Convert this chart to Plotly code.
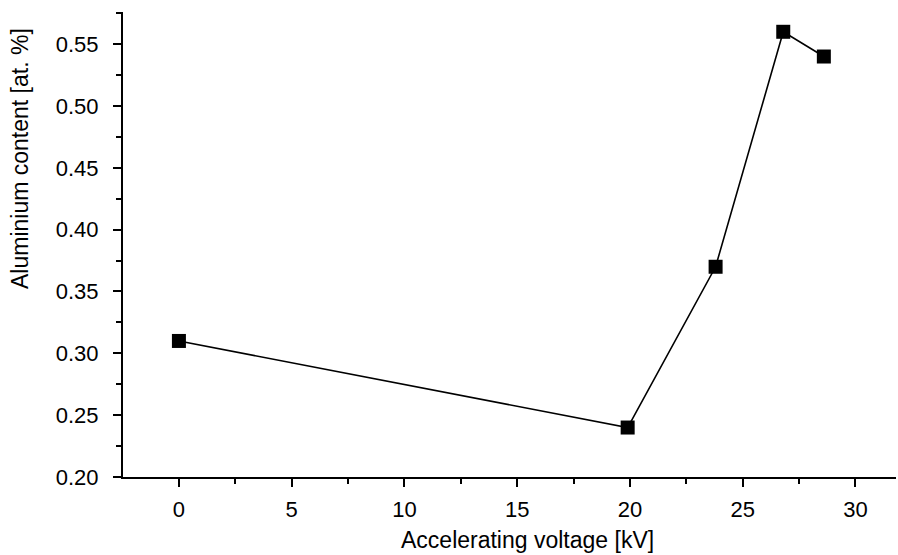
import plotly.graph_objects as go

voltage = [0, 19.9, 23.8, 26.8, 28.6]
aluminium = [0.31, 0.24, 0.37, 0.56, 0.54]
x_ticks = [0, 5, 10, 15, 20, 25, 30]
y_ticks = [0.20, 0.25, 0.30, 0.35, 0.40, 0.45, 0.50, 0.55]
y_ticktext = ["0.20", "0.25", "0.30", "0.35", "0.40", "0.45", "0.50", "0.55"]

fig = go.Figure()
fig.add_trace(go.Scatter(
    x=voltage, y=aluminium, mode="lines+markers",
    line=dict(color="black", width=1.6),
    marker=dict(symbol="square", size=14, color="black"),
    showlegend=False,
))

font = dict(family="Liberation Sans, Arial, sans-serif", size=22, color="black")
L, R, T, B = 123, 2, 12, 78
W, H = 898, 555
fig.update_layout(
    width=W, height=H,
    margin=dict(l=L, r=R, t=T, b=B),
    plot_bgcolor="white", paper_bgcolor="white",
    font=font,
)
fig.update_xaxes(
    range=[-2.48, 31.8], tickmode="array", tickvals=x_ticks,
    ticks="outside", ticklen=8, tickwidth=2, tickcolor="black",
    ticklabelstandoff=4,
    showline=True, linewidth=2, linecolor="black", showgrid=False, zeroline=False,
    minor=dict(tickvals=[-2.5, 2.5, 7.5, 12.5, 17.5, 22.5, 27.5], ticks="outside",
               ticklen=5, tickwidth=2, tickcolor="black"),
)
fig.update_yaxes(
    range=[0.2, 0.576], tickmode="array", tickvals=y_ticks, ticktext=y_ticktext,
    ticks="outside", ticklen=8, tickwidth=2, tickcolor="black",
    ticklabelstandoff=10,
    showline=True, linewidth=2, linecolor="black", showgrid=False, zeroline=False,
    minor=dict(tickvals=[0.225, 0.275, 0.325, 0.375, 0.425, 0.475, 0.525, 0.575],
               ticks="outside", ticklen=5, tickwidth=2, tickcolor="black"),
)
pw, ph = W - L - R, H - T - B
fig.add_annotation(
    text="Aluminium content [at. %]", textangle=-90, showarrow=False,
    xref="paper", yref="paper", x=(20 - L) / pw, y=(H - B - 159) / ph,
    xanchor="center", yanchor="middle", font=dict(size=23),
)
fig.add_annotation(
    text="Accelerating voltage [kV]", showarrow=False,
    xref="paper", yref="paper", x=(527 - L) / pw, y=(H - B - 540) / ph,
    xanchor="center", yanchor="middle", font=dict(size=23),
)
fig.write_html("out.html")
